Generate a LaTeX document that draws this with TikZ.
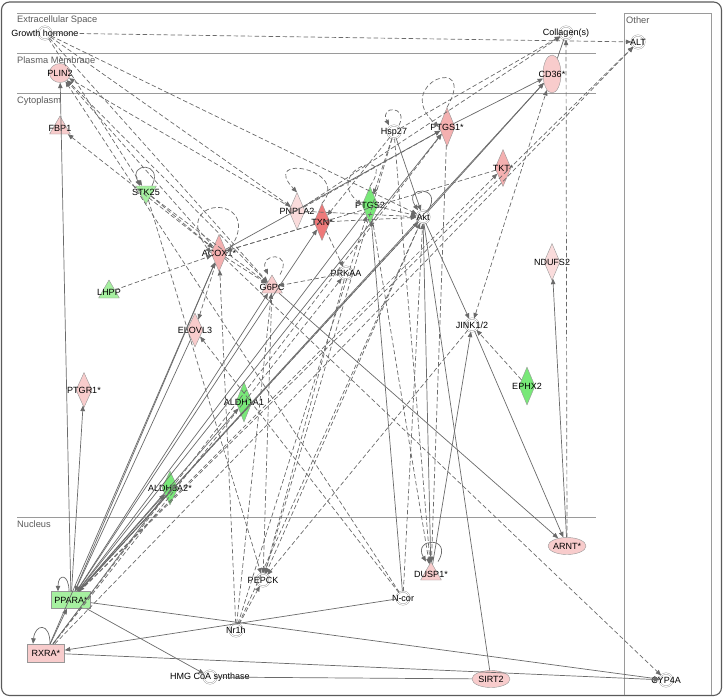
\documentclass[tikz,border=0pt]{standalone}
\usepackage{fontspec}
\setmainfont{Liberation Sans}
\usetikzlibrary{shapes.geometric,arrows.meta}
\definecolor{edgegray}{HTML}{6A6A6A}
\definecolor{linegray}{HTML}{9A9A9A}
\definecolor{compgray}{HTML}{5A5A5A}
\definecolor{pinkA}{HTML}{F8CCCC}
\definecolor{pinkB}{HTML}{F4B0B0}
\definecolor{pinkC}{HTML}{FADCDC}
\definecolor{redA}{HTML}{EE7A7A}
\definecolor{greenA}{HTML}{78E878}
\definecolor{greenB}{HTML}{A6F0A0}
\tikzset{
  lbl/.style={font=\fontsize{9}{10}\selectfont, inner sep=0pt},
  comp/.style={font=\fontsize{9.3}{10}\selectfont, text=compgray, inner sep=0pt, anchor=west},
  mol/.style={draw=edgegray!70, line width=0.4pt, inner sep=0pt},
  other/.style={mol, circle, double=white, double distance=1pt, minimum size=13pt, fill=white},
  enz/.style={mol, diamond, minimum width=16pt, minimum height=37pt},
  tri/.style={mol, regular polygon, regular polygon sides=3, minimum size=24pt},
  itri/.style={tri, shape border rotate=180},
  ovl/.style={mol, ellipse},
  box/.style={mol, rectangle},
  act/.style={draw=edgegray, line width=0.7pt, -{Triangle[length=5.5pt,width=4.5pt]}},
  dact/.style={act, dash pattern=on 4.5pt off 2.5pt},
  bact/.style={dact, {Triangle[length=5.5pt,width=4.5pt]}-{Triangle[length=5.5pt,width=4.5pt]}},
  rel/.style={draw=edgegray, line width=0.7pt},
}
\begin{document}
\begin{tikzpicture}[x=1pt,y=-1pt]
\useasboundingbox (0,0) rectangle (723,697);
% frame and compartments
\draw[draw=compgray, line width=1.1pt, rounded corners=8pt] (1.5,2) rectangle (721.5,695.5);
\draw[linegray, line width=0.8pt] (17,13) -- (596,13);
\draw[linegray, line width=0.8pt] (17,53) -- (596,53);
\draw[linegray, line width=0.8pt] (17,93) -- (596,93);
\draw[linegray, line width=0.8pt] (17,517) -- (596,517);
\draw[linegray, line width=0.8pt] (624,695) -- (624,13) -- (711,13) -- (711,695);
\node[comp] at (17,20) {Extracellular Space};
\node[comp] at (17,60) {Plasma Membrane};
\node[comp] at (17,101) {Cytoplasm};
\node[comp] at (17,524) {Nucleus};
\node[comp] at (626,20) {Other};

% molecules
\node[other, label={[lbl]center:Growth hormone}] (gh) at (45,33) {};
\node[other, label={[lbl]center:Collagen(s)}] (coll) at (566,33) {};
\node[other, label={[lbl]center:ALT}] (alt) at (638,42) {};
\node[ovl, fill=pinkA, minimum width=21pt, minimum height=19pt, label={[lbl]center:PLIN2}] (plin) at (60,73) {};
\node[ovl, fill=pinkA, minimum width=18pt, minimum height=38pt, label={[lbl]center:CD36*}] (cd36) at (552,74) {};
\node[tri, fill=pinkA, label={[lbl]center:FBP1}] (fbp) at (60,128) {};
\node[other, label={[lbl]center:Hsp27}] (hsp) at (394,132) {};
\node[enz, fill=pinkB, minimum height=39pt, label={[lbl]center:PTGS1*}] (ptgsa) at (447,127) {};
\node[enz, fill=pinkB, label={[lbl]center:TKT*}] (tkt) at (503,168) {};
\node[itri, fill=greenB, label={[lbl]center:STK25}] (stk) at (146,192) {};
\node[enz, fill=pinkC, label={[lbl]center:PNPLA2}] (pnpla) at (297,211) {};
\node[enz, fill=redA, label={[lbl]center:TXN*}] (txn) at (322,222) {};
\node[enz, fill=greenA, label={[lbl]center:PTGS2}] (ptgsb) at (370,205) {};
\node[other, label={[lbl]center:Akt}] (akt) at (423,217) {};
\node[enz, fill=pinkB, label={[lbl]center:ACOX1*}] (acox) at (219,253) {};
\node[tri, fill=pinkA, label={[lbl]center:G6PC}] (gsix) at (272,287) {};
\node[other, label={[lbl]center:PRKAA}] (prkaa) at (346,273) {};
\node[enz, fill=pinkC, label={[lbl]center:NDUFS2}] (ndufs) at (552,262) {};
\node[tri, fill=greenB, label={[lbl]center:LHPP}] (lhpp) at (109,292) {};
\node[enz, fill=pinkA, minimum height=34pt, label={[lbl]center:ELOVL3}] (elovl) at (195,330) {};
\node[other, label={[lbl]center:JINK1/2}] (jnk) at (472,325) {};
\node[enz, fill=greenA, minimum height=38pt, label={[lbl]center:EPHX2}] (ephx) at (527,386) {};
\node[enz, fill=pinkA, minimum height=35pt, label={[lbl]center:PTGR1*}] (ptgr) at (84,390) {};
\node[enz, fill=greenA, minimum height=40pt, label={[lbl]center:ALDH1A1}] (aldha) at (244,402) {};
\node[enz, fill=greenA, minimum height=34pt, label={[lbl]center:ALDH3A2*}] (aldhb) at (170,488) {};
\node[box, fill=greenB, minimum width=39pt, minimum height=17pt, label={[lbl]center:PPARA*}] (ppara) at (71,600) {};
\node[box, fill=pinkA, minimum width=37pt, minimum height=18pt, label={[lbl]center:RXRA*}] (rxra) at (46,653) {};
\node[other, label={[lbl]center:PEPCK}] (pepck) at (263,580) {};
\node[other, label={[lbl]center:Nr1h}] (nrh) at (236,630) {};
\node[other, label={[lbl]center:N-cor}] (ncor) at (403,598) {};
\node[tri, fill=pinkA, label={[lbl]center:DUSP1*}] (dusp) at (431,574) {};
\node[ovl, fill=pinkA, minimum width=38pt, minimum height=17pt, label={[lbl]center:ARNT*}] (arnt) at (567,546) {};
\node[other, label={[lbl]center:HMG CoA synthase}] (hmg) at (210,677) {};
\node[ovl, fill=pinkA, minimum width=38pt, minimum height=17pt, label={[lbl]center:SIRT2}] (sirt) at (491,679) {};
\node[other, label={[lbl]center:CYP4A}] (cyp) at (666,680) {};

% self loops
\draw[act] ([xshift=-2pt]ppara.north) .. controls +(0,-18) and +(0,-18) .. ([xshift=-13pt]ppara.north);
\draw[act] ([xshift=4pt]rxra.north) .. controls +(0,-22) and +(2,-20) .. ([xshift=-13pt]rxra.north);
\draw[act] ([xshift=6pt]stk.north) .. controls +(12,-24) and +(-12,-24) .. ([xshift=-6pt]stk.north);
\draw[act] ([xshift=5pt]akt.north) .. controls +(16,-25) and +(-16,-25) .. ([xshift=-5pt]akt.north);
\draw[act] ([xshift=7pt]dusp.north) .. controls +(16,-26) and +(-14,-24) .. ([xshift=-5pt]dusp.north);
\draw[dact] ([xshift=5pt]hsp.north) .. controls +(10,-20) and +(-10,-20) .. ([xshift=-5pt]hsp.north);
\draw[dact] (ptgsa.north) .. controls +(32,-55) and +(-48,-44) .. (ptgsa.west);
\draw[dact] (ptgsb.north) .. controls +(28,-42) and +(-40,-34) .. (ptgsb.west);
\draw[dact] (acox.east) .. controls +(45,-60) and +(-45,-60) .. (acox.west);
\draw[dact] ([xshift=8pt]gsix.north) .. controls +(14,-24) and +(-10,-22) .. ([xshift=-4pt]gsix.north);
\draw[dact] (txn.north) .. controls +(30,-34) and +(-38,-40) .. (pnpla.north);

% solid relations
\draw[act] (ppara) -- (plin);
\draw[act] (ppara) -- (ptgr);
\draw[act] (ppara) -- (hmg);
\draw[act] (ppara) -- (cyp);
\draw[act] (rxra) -- (cyp);
\draw[act] (ncor) -- (rxra);
\draw[act] (rxra) -- (ppara);
\draw[act] (ppara) -- (acox);
\draw[act] (rxra) -- (acox);
\draw[act] (elovl) -- (ppara);
\draw[act] (ppara) -- (gsix);
\draw[act] (ppara) -- (txn);
\draw[act] (ptgsb) -- (ppara);
\draw[act] (akt) -- (ppara);
\draw[act] (ppara) -- (ptgsa);
\draw[act] (ppara) -- (aldha);
\draw[act] (ppara) -- (aldhb);
\draw[act] (rxra) -- (aldhb);
\draw[act] (ppara) -- (cd36);
\draw[act] (akt) -- (jnk);
\draw[act] (jnk) -- (arnt);
\draw[act] (gsix) -- (arnt);
\draw[act] (arnt) -- (ndufs);
\draw[act] (akt) -- (cd36);
\draw[act] (ptgsa) -- (cd36);
\draw[act] (acox) -- (ptgsa);
\draw[act] (hsp) -- (akt);
\draw[act] (ncor) -- (ptgsb);
\draw[act] (akt) -- (dusp);
\draw[act] (dusp) -- (jnk);
\draw[rel] (cd36) -- (coll);
\draw[rel] (akt) -- (sirt);
\draw[rel] (hmg) -- (sirt);

% dashed relations
\draw[dact] (gh) -- (alt);
\draw[dact] (gh) -- (akt);
\draw[dact] (gh) -- (pnpla);
\draw[dact] (gh) -- (gsix);
\draw[dact] (gh) -- (stk);
\draw[dact] (pnpla) -- (coll);
\draw[dact] (hsp) -- (coll);
\draw[dact] (ppara) -- (alt);
\draw[dact] (rxra) -- (alt);
\draw[dact] (arnt) -- (coll);
\draw[bact] (jnk) -- (cd36);
\draw[dact] (hsp) -- (ptgsb);
\draw[dact] (hsp) -- (txn);
\draw[dact] (hsp) -- (pepck);
\draw[dact] (hsp) -- (dusp);
\draw[dact] (ptgsb) -- (akt);
\draw[dact] (txn) -- (akt);
\draw[dact] (pnpla) -- (akt);
\draw[dact] (acox) -- (gsix);
\draw[dact] (txn) -- (prkaa);
\draw[dact] (prkaa) -- (gsix);
\draw[dact] (lhpp) -- (acox);
\draw[dact] (stk) -- (acox);
\draw[dact] (stk) -- (gsix);
\draw[dact] (acox) -- (fbp);
\draw[dact] (acox) -- (plin);
\draw[dact] (gsix) -- (plin);
\draw[dact] (pnpla) -- (plin);
\draw[dact] (ncor) -- (plin);
\draw[dact] (gsix) -- (pepck);
\draw[dact] (prkaa) -- (pepck);
\draw[dact] (akt) -- (pepck);
\draw[dact] (jnk) -- (pepck);
\draw[dact] (stk) -- (pepck);
\draw[dact] (nrh) -- (pepck);
\draw[dact] (nrh) -- (gsix);
\draw[dact] (nrh) -- (acox);
\draw[dact] (nrh) -- (akt);
\draw[dact] (nrh) -- (ptgsb);
\draw[dact] (ptgsa) -- (dusp);
\draw[dact] (ptgsb) -- (dusp);
\draw[dact] (acox) -- (cyp);
\draw[dact] (ephx) -- (jnk);
\draw[dact] (ppara) -- (akt);
\draw[dact] (rxra) -- (ptgsa);
\draw[dact] (ppara) -- (tkt);
\draw[dact] (rxra) -- (prkaa);
\draw[dact] (tkt) -- (acox);
\draw[dact] (txn) -- (acox);
\draw[dact] (acox) -- (elovl);
\draw[dact] (ncor) -- (elovl);
\draw[dact] (ncor) -- (akt);
\draw[dact] (pnpla) -- (ptgsa);
\end{tikzpicture}
\end{document}
